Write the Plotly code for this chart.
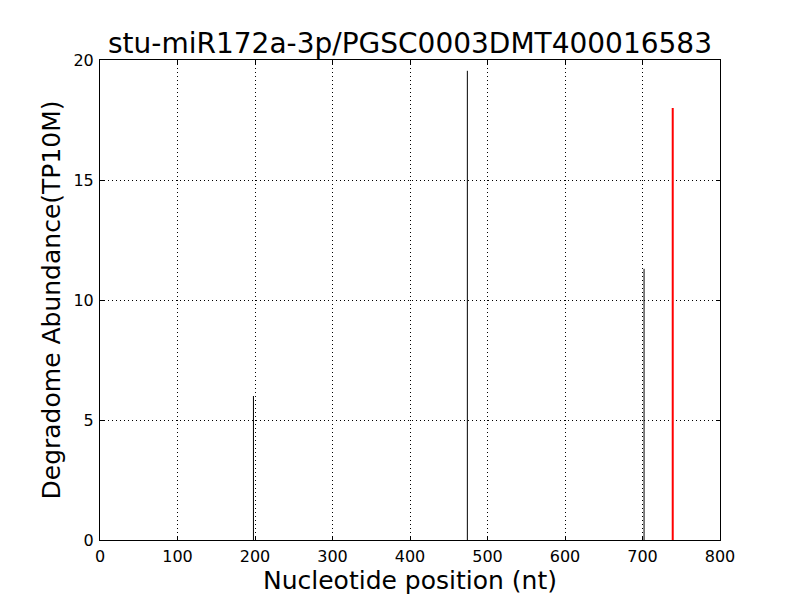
import plotly.graph_objects as go

title = "stu-miR172a-3p/PGSC0003DMT400016583"
black_pos = [198, 474, 702]
black_val = [6.0, 19.55, 11.3]
red_pos = [739]
red_val = [18.0]
xticks = [0, 100, 200, 300, 400, 500, 600, 700, 800]
yticks = [0, 5, 10, 15, 20]

def segs(pos, val):
    xs, ys = [], []
    for p, v in zip(pos, val):
        xs += [p, p, None]
        ys += [0, v, None]
    return xs, ys

fig = go.Figure()
bx, by = segs(black_pos, black_val)
fig.add_trace(go.Scatter(x=bx, y=by, mode="lines", line=dict(color="black", width=1), showlegend=False))
rx, ry = segs(red_pos, red_val)
fig.add_trace(go.Scatter(x=rx, y=ry, mode="lines", line=dict(color="red", width=2), showlegend=False))

axis_common = dict(
    showline=True, linecolor="black", linewidth=1, mirror="allticks",
    ticks="inside", ticklen=4, tickcolor="black",
    showgrid=True, gridcolor="black", griddash="1px,3px", gridwidth=1,
    zeroline=False, tickfont=dict(size=16, color="black"), automargin=False,
)
# page body has an 8px margin, so the figure is 792x592 placed at (8, 8)
W, H = 792, 592
fig.update_layout(
    width=W, height=H,
    margin=dict(l=92, r=80, t=52, b=60),
    plot_bgcolor="white", paper_bgcolor="white",
    font=dict(family="DejaVu Sans", color="black"),
    title=dict(text=title, x=402/W, xanchor="center", y=1-35/H, yanchor="middle", font=dict(size=28)),
    xaxis=dict(range=[0, 800], tickvals=xticks, ticklabelstandoff=2,
               title=dict(text="Nucleotide position (nt)", font=dict(size=25), standoff=6), **axis_common),
    yaxis=dict(range=[0, 20], tickvals=yticks, ticklabelstandoff=2,
               title=dict(text="Degradome Abundance(TP10M)", font=dict(size=25), standoff=5), **axis_common),
)
fig.write_html("out.html")
